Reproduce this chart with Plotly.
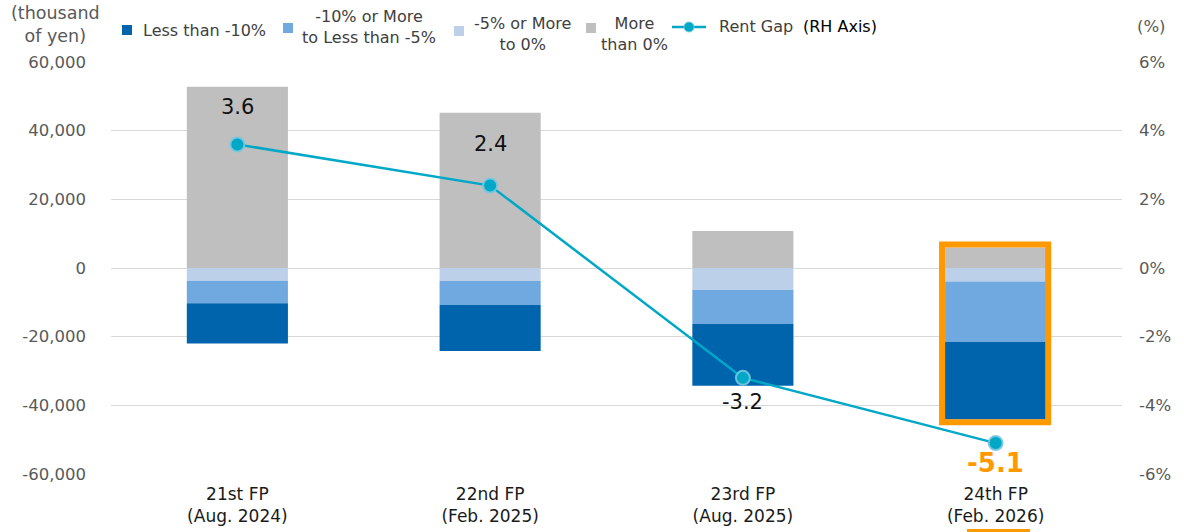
import plotly.graph_objects as go

# ---------------- data ----------------
categories = ["21st FP<br>(Aug. 2024)", "22nd FP<br>(Feb. 2025)",
              "23rd FP<br>(Aug. 2025)", "24th FP<br>(Feb. 2026)"]
more_than_0 = [52800, 45200, 10800, 6000]
m5_to_0 = [-3700, -3800, -6400, -3900]
m10_to_m5 = [-6600, -7000, -9900, -17600]
less_than_m10 = [-11700, -13400, -18000, -22600]
rent_gap = [3.6, 2.4, -3.2, -5.1]
rent_gap_labels = ["3.6", "2.4", "-3.2", "-5.1"]

left_tickvals = [-60000, -40000, -20000, 0, 20000, 40000, 60000]
left_ticktext = ["-60,000", "-40,000", "-20,000", "0", "20,000", "40,000", "60,000"]
right_tickvals = [-6, -4, -2, 0, 2, 4, 6]
right_ticktext = ["-6%", "-4%", "-2%", "0%", "2%", "4%", "6%"]

legend_names = ["Less than -10%", "-10% or More<br>to Less than -5%",
                "-5% or More<br>to 0%", "More<br>than 0%", "Rent Gap"]

C_DARK = "#0064ad"
C_MID = "#70a9df"
C_LIGHT = "#bdd0ea"
C_GREY = "#bfbfbf"
C_LINE = "#00a8c8"
C_ORANGE = "#ff9900"
FONT = "DejaVu Sans"

# plot area in pixels
W, H = 1184, 532
L, R, T, B = 111, 62, 62, 58
PW, PH = W - L - R, H - T - B


def px(x):
    return (x - L) / PW


def py(y):
    return (H - B - y) / PH


BAR_W = 0.4

fig = go.Figure()
fig.add_trace(go.Bar(x=categories, y=m5_to_0, name=legend_names[2], marker_color=C_LIGHT,
                     width=BAR_W, marker_line_width=0))
fig.add_trace(go.Bar(x=categories, y=m10_to_m5, name=legend_names[1], marker_color=C_MID,
                     width=BAR_W, marker_line_width=0))
fig.add_trace(go.Bar(x=categories, y=less_than_m10, name=legend_names[0], marker_color=C_DARK,
                     width=BAR_W, marker_line_width=0))
fig.add_trace(go.Bar(x=categories, y=more_than_0, name=legend_names[3], marker_color=C_GREY,
                     width=BAR_W, marker_line_width=0))
fig.add_trace(go.Scatter(x=categories, y=rent_gap, name=legend_names[4], yaxis="y2",
                         mode="lines+markers",
                         line=dict(color=C_LINE, width=2.5),
                         marker=dict(size=14, color=C_LINE,
                                     line=dict(color="rgba(120,200,225,0.9)", width=2)),
                         cliponaxis=False))

# data labels
shifts = [37, 42, -24, -20]
annotations = []
for i, (c, v, t) in enumerate(zip(categories, rent_gap, rent_gap_labels)):
    last = i == len(categories) - 1
    annotations.append(dict(
        x=c, y=v, xref="x", yref="y2", text=("<b>%s</b>" % t) if last else t,
        showarrow=False, yshift=shifts[i], xanchor="center", yanchor="middle",
        font=dict(family=FONT, size=26 if last else 21,
                  color=C_ORANGE if last else "#111111")))

# axis titles
annotations.append(dict(x=px(55), y=py(24), xref="paper", yref="paper",
                        text="(thousand<br>of yen)", showarrow=False,
                        xanchor="center", yanchor="middle", align="center",
                        font=dict(family=FONT, size=17.5, color="#595959")))
annotations.append(dict(x=px(1151), y=py(27), xref="paper", yref="paper",
                        text="(%)", showarrow=False, xanchor="center", yanchor="middle",
                        font=dict(family=FONT, size=16.5, color="#595959")))

# manual legend
leg_font = dict(family=FONT, size=16, color="#404040")
shapes = []
leg_items = [
    (122, 30, C_DARK, legend_names[0], 141, "left", 30),
    (283, 28, C_MID, legend_names[1], 369, "center", 27),
    (454, 31, C_LIGHT, legend_names[2], 522, "center", 34),
    (586, 28, C_GREY, legend_names[3], 634, "center", 34),
]
for sx, sy, col, txt, tx, anchor, ty in leg_items:
    shapes.append(dict(type="rect", xref="paper", yref="paper",
                       x0=px(sx), x1=px(sx + 10), y0=py(sy + 5), y1=py(sy - 5),
                       fillcolor=col, line_width=0))
    annotations.append(dict(x=px(tx), y=py(ty), xref="paper", yref="paper",
                            text=txt, showarrow=False, xanchor=anchor, yanchor="middle",
                            align="center", font=leg_font))
shapes.append(dict(type="line", xref="paper", yref="paper",
                   x0=px(672), x1=px(706), y0=py(27), y1=py(27),
                   line=dict(color=C_LINE, width=2.5)))
shapes.append(dict(type="circle", xref="paper", yref="paper",
                   x0=px(684), x1=px(694), y0=py(32), y1=py(22),
                   fillcolor=C_LINE, line=dict(color="rgba(120,200,225,0.9)", width=1)))
annotations.append(dict(x=px(717), y=py(27), xref="paper", yref="paper",
                        text=legend_names[4], showarrow=False, xanchor="left",
                        yanchor="middle", font=leg_font))
annotations.append(dict(x=px(801), y=py(26), xref="paper", yref="paper",
                        text="(RH Axis)", showarrow=False, xanchor="left",
                        yanchor="middle",
                        font=dict(family=FONT, size=16, color="#000000")))

# highlight box around the latest period
hi = len(categories) - 1
top_total = more_than_0[hi]
bot_total = m5_to_0[hi] + m10_to_m5[hi] + less_than_m10[hi]
shapes.append(dict(type="rect", xref="x", yref="y",
                   x0=hi - BAR_W / 2 - 0.012, x1=hi + BAR_W / 2 + 0.008,
                   y0=bot_total - 850, y1=top_total + 850,
                   line=dict(color=C_ORANGE, width=6), fillcolor="rgba(0,0,0,0)",
                   layer="above"))
# cut-off orange element at the bottom edge
shapes.append(dict(type="rect", xref="paper", yref="paper",
                   x0=px(967), x1=px(1030), y0=py(545), y1=py(529),
                   fillcolor=C_ORANGE, line_width=0))

fig.update_layout(
    width=W, height=H,
    margin=dict(l=L, r=R, t=T, b=B, pad=0, autoexpand=False),
    barmode="relative",
    bargap=0.6,
    showlegend=False,
    plot_bgcolor="white", paper_bgcolor="white",
    font=dict(family=FONT, size=15, color="#595959"),
    xaxis=dict(type="category", showgrid=False, showline=False, ticks="",
               automargin=False,
               tickfont=dict(family=FONT, size=17, color="#1a1a1a"),
               ticklabelstandoff=8),
    yaxis=dict(range=[-60000, 60000], tickvals=left_tickvals, ticktext=left_ticktext,
               showgrid=True, gridcolor="#d9d9d9", gridwidth=1, zeroline=False,
               showline=False, ticks="", ticklabelstandoff=24, automargin=False,
               tickfont=dict(family=FONT, size=16.5, color="#595959")),
    yaxis2=dict(range=[-6, 6], tickvals=right_tickvals, ticktext=right_ticktext,
                overlaying="y", side="right", showgrid=False, zeroline=False,
                showline=False, ticks="", ticklabelstandoff=16, automargin=False,
                tickfont=dict(family=FONT, size=16.5, color="#595959")),
    annotations=annotations,
    shapes=shapes,
)

fig.write_html("out.html")
